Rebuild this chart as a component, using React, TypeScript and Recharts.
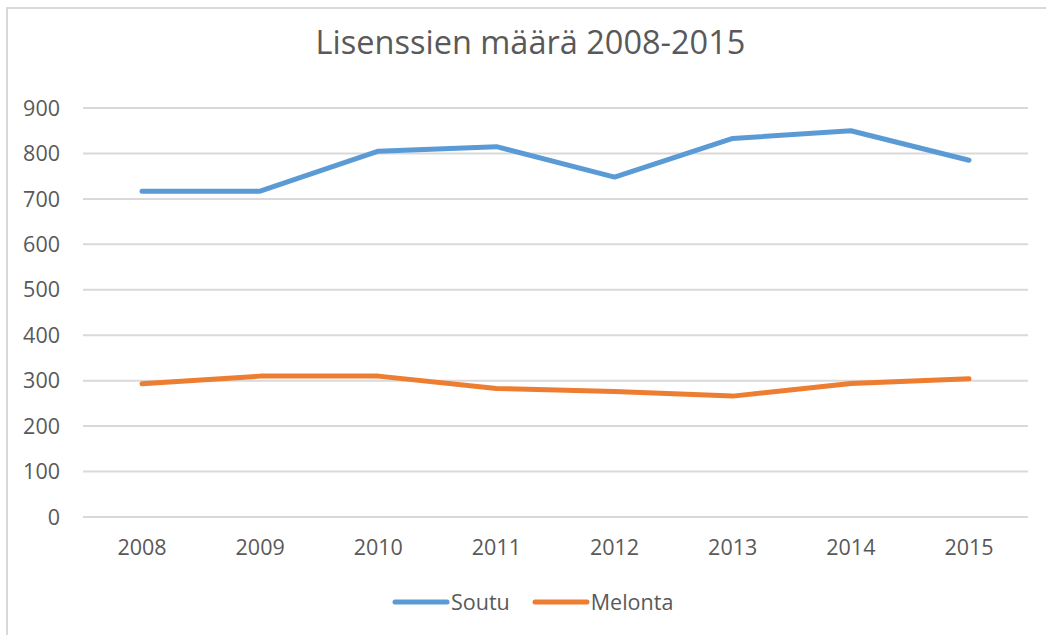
import { LineChart, Line, XAxis, YAxis, CartesianGrid } from 'recharts';

const years = ['2008', '2009', '2010', '2011', '2012', '2013', '2014', '2015'];
const soutu = [717, 717, 805, 815, 748, 833, 850, 785];
const melonta = [293, 310, 310, 283, 276, 266, 294, 304];
const yTicks = [0, 100, 200, 300, 400, 500, 600, 700, 800, 900];

const series = [
  { key: 'Soutu', color: '#5B9BD5' },
  { key: 'Melonta', color: '#ED7D31' },
];

const chartData = years.map((year, i) => ({
  year,
  Soutu: soutu[i],
  Melonta: melonta[i],
}));

const FONT = '"Open Sans", sans-serif';
const TEXT = '#595959';

function LegendRow() {
  return (
    <div style={{ display: 'flex', alignItems: 'center', fontFamily: FONT, fontSize: 21.5, color: TEXT }}>
      {series.map((s) => (
        <div key={s.key} style={{ display: 'flex', alignItems: 'center', marginRight: 22 }}>
          <svg width={58} height={10} style={{ display: 'block' }}>
            <line x1={3} y1={5} x2={55} y2={5} stroke={s.color} strokeWidth={5} strokeLinecap="round" />
          </svg>
          <span style={{ marginLeft: 1 }}>{s.key}</span>
        </div>
      ))}
    </div>
  );
}

export default function App() {
  return (
    <div style={{ position: 'absolute', left: 0, top: 0, width: 1046, height: 635, background: '#fff', overflow: 'hidden' }}>
      <div
        style={{
          position: 'absolute',
          left: 6,
          top: 7,
          width: 1046,
          height: 635,
          borderLeft: '2px solid #d9d9d9',
          borderTop: '2px solid #d9d9d9',
        }}
      />
      <div
        style={{
          position: 'absolute',
          left: 0,
          top: 19,
          width: 1061,
          textAlign: 'center',
          fontFamily: FONT,
          fontSize: 32.5,
          color: TEXT,
        }}
      >
        Lisenssien määrä 2008-2015
      </div>
      <div style={{ position: 'absolute', left: 0, top: 0 }}>
        <LineChart width={1046} height={635} data={chartData} margin={{ top: 108, right: 18, bottom: 88, left: 0 }}>
          <CartesianGrid horizontal vertical={false} stroke="#d9d9d9" strokeWidth={2} />
          <XAxis
            dataKey="year"
            height={30}
            padding={{ left: 59, right: 59 }}
            axisLine={false}
            tickLine={false}
            tickMargin={17}
            tick={{ fontFamily: FONT, fontSize: 21.5, fill: TEXT }}
          />
          <YAxis
            width={83}
            domain={[0, 900]}
            ticks={yTicks}
            axisLine={false}
            tickLine={false}
            tickMargin={17}
            tick={{ fontFamily: FONT, fontSize: 21.5, fill: TEXT }}
          />
          {series.map((s) => (
            <Line
              key={s.key}
              type="linear"
              dataKey={s.key}
              stroke={s.color}
              strokeWidth={5}
              strokeLinecap="round"
              strokeLinejoin="round"
              dot={false}
              isAnimationActive={false}
            />
          ))}
        </LineChart>
      </div>
      <div style={{ position: 'absolute', left: 392, top: 587 }}>
        <LegendRow />
      </div>
    </div>
  );
}
